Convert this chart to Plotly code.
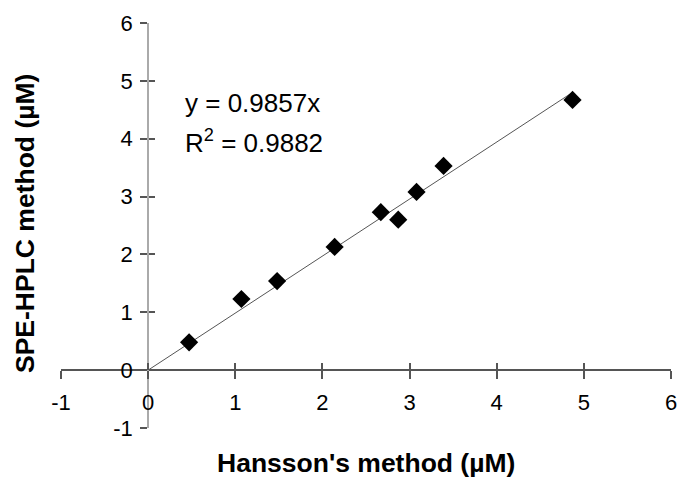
import plotly.graph_objects as go

hansson = [0.47, 1.07, 1.48, 2.14, 2.67, 2.87, 3.08, 3.39, 4.87]
spe_hplc = [0.48, 1.23, 1.54, 2.13, 2.73, 2.60, 3.08, 3.53, 4.67]
slope = 0.9857
r2 = 0.9882
tick_vals = [-1, 0, 1, 2, 3, 4, 5, 6]
tick_text = ["-1", "0", "1", "2", "3", "4", "5", "6"]

fit_x = [0, max(hansson)]
fit_y = [slope * v for v in fit_x]

FONT = "Liberation Sans, Arial, sans-serif"

fig = go.Figure()
fig.add_trace(go.Scatter(x=fit_x, y=fit_y, mode="lines",
                         line=dict(color="#555555", width=1), showlegend=False))
fig.add_trace(go.Scatter(x=hansson, y=spe_hplc, mode="markers",
                         marker=dict(symbol="diamond", size=14, color="black"),
                         showlegend=False))
fig.add_trace(go.Scatter(x=[0], y=[0], xaxis="x2", yaxis="y2", mode="markers",
                         marker=dict(size=0.1, opacity=0), showlegend=False,
                         hoverinfo="skip"))

font_tick = dict(family=FONT, size=22, color="black")
pos = 1 / 7

W, H = 679, 483
l, r, t, b = 61, 8, 23, 55
pw, ph = W - l - r, H - t - b

fig.update_layout(
    width=W, height=H,
    margin=dict(l=l, r=r, t=t, b=b, autoexpand=False),
    plot_bgcolor="white", paper_bgcolor="white",
    xaxis=dict(range=[-1, 6], tickvals=tick_vals, ticktext=tick_text,
               anchor="free", position=pos, showgrid=False, zeroline=False,
               showline=True, linecolor="#555555", linewidth=1.5,
               ticks="outside", ticklen=8, tickwidth=1.5, tickcolor="#555555",
               tickfont=font_tick, automargin=False, ticklabelstandoff=5,
               ticklabeloverflow="allow"),
    yaxis=dict(range=[-1, 6], tickvals=tick_vals, ticktext=tick_text,
               anchor="free", position=pos, showgrid=False, zeroline=False,
               showline=True, linecolor="#aaaaaa", linewidth=2,
               ticks="outside", ticklen=7, tickwidth=1.5, tickcolor="#555555",
               tickfont=font_tick, automargin=False, ticklabelstandoff=3,
               ticklabeloverflow="allow"),
    xaxis2=dict(range=[-1, 6], tickvals=tick_vals, overlaying="x",
                anchor="free", position=pos, showgrid=False, zeroline=False,
                showline=False, ticks="inside", ticklen=7, tickwidth=1.5,
                tickcolor="#555555", showticklabels=False, automargin=False),
    yaxis2=dict(range=[-1, 6], tickvals=tick_vals, overlaying="y",
                anchor="free", position=pos, showgrid=False, zeroline=False,
                showline=False, ticks="inside", ticklen=6, tickwidth=1.5,
                tickcolor="#555555", showticklabels=False, automargin=False),
    annotations=[
        dict(text=f"y = {slope}x", x=0.40, y=4.62,
             xref="x", yref="y", xanchor="left", yanchor="middle",
             showarrow=False, font=dict(family=FONT, size=26, color="black")),
        dict(text=f"R<sup>2</sup> = {r2}", x=0.40, y=3.95,
             xref="x", yref="y", xanchor="left", yanchor="middle",
             showarrow=False, font=dict(family=FONT, size=26, color="black")),
        dict(text="<b>Hansson's method (µM)</b>", x=(366 - l) / pw,
             y=(H - b - 463) / ph, xanchor="center", yanchor="middle",
             xref="paper", yref="paper", showarrow=False,
             font=dict(family=FONT, size=26.5, color="black")),
        dict(text="<b>SPE-HPLC method (µM)</b>", x=(25 - l) / pw,
             y=(H - b - 224) / ph, xanchor="center", yanchor="middle",
             xref="paper", yref="paper", textangle=-90, showarrow=False,
             font=dict(family=FONT, size=26.5, color="black")),
    ],
)

fig.write_html("out.html", config={"displayModeBar": False},
               post_script="document.body.style.margin='0';document.body.style.overflow='hidden';")
